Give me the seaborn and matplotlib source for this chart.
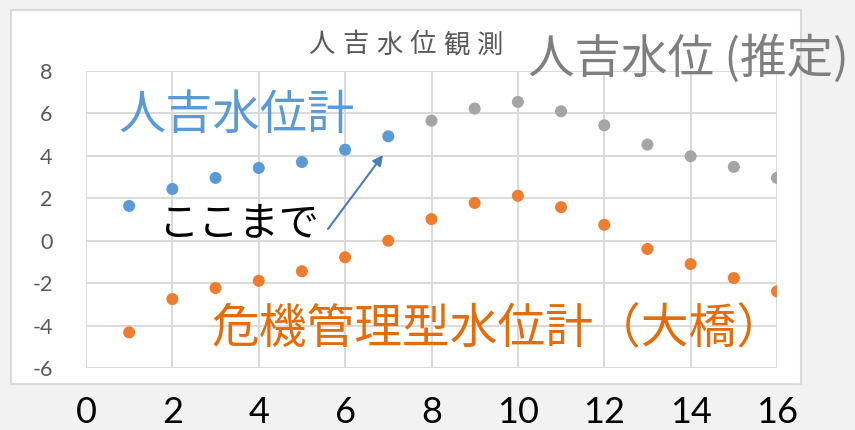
import numpy as np
import pandas as pd
import matplotlib.pyplot as plt
import seaborn as sns
from matplotlib.patches import Rectangle

# --- data ---
x_obs = [1, 2, 3, 4, 5, 6, 7]
level_obs = [1.64, 2.44, 2.96, 3.43, 3.71, 4.29, 4.92]

x_est = [8, 9, 10, 11, 12, 13, 14, 15, 16]
level_est = [5.66, 6.23, 6.54, 6.10, 5.44, 4.53, 3.98, 3.48, 2.96]

x_ohashi = list(range(1, 17))
level_ohashi = [-4.32, -2.75, -2.23, -1.89, -1.44, -0.78, 0.0, 1.02,
                1.78, 2.12, 1.58, 0.75, -0.39, -1.10, -1.76, -2.39]

x_ticks = [0, 2, 4, 6, 8, 10, 12, 14, 16]
y_ticks = [-6, -4, -2, 0, 2, 4, 6, 8]

BLUE = '#5b9bd5'
GRAY = '#a5a5a5'
ORANGE = '#ed7d31'

df = pd.concat([
    pd.DataFrame({'x': x_obs, 'level': level_obs, 'series': 'obs'}),
    pd.DataFrame({'x': x_est, 'level': level_est, 'series': 'est'}),
    pd.DataFrame({'x': x_ohashi, 'level': level_ohashi, 'series': 'ohashi'}),
])

sns.set_theme(style="whitegrid")
plt.rcParams['font.family'] = ['Noto Sans CJK JP', 'DejaVu Sans']

W, H = 855, 430
fig = plt.figure(figsize=(W / 100, H / 100), dpi=100, facecolor='#f2f2f2')

def fx(px):
    return px / W

def fy(py):
    return 1 - py / H

# white chart panel (behind the axes)
fig.patches.append(Rectangle((fx(11), fy(384)), fx(801) - fx(11), fy(10) - fy(384),
                             transform=fig.transFigure, facecolor='white',
                             edgecolor='#d9d9d9', linewidth=1.5, zorder=-5))

ax = fig.add_axes([fx(86), fy(368), fx(777) - fx(86), fy(71) - fy(368)])
ax.set_zorder(1)
ax.set_facecolor('white')

sns.scatterplot(data=df, x='x', y='level', hue='series',
                palette={'obs': BLUE, 'est': GRAY, 'ohashi': ORANGE},
                s=75, linewidth=0, legend=False, ax=ax, zorder=3)

ax.set_xlim(0, 16)
ax.set_ylim(-6, 8)
ax.set_xticks(x_ticks)
ax.set_yticks(y_ticks)
ax.set_xticklabels([str(v) for v in x_ticks], fontsize=26, color='black', family='Lato')
ax.set_yticklabels([str(v) for v in y_ticks], fontsize=15.5, color='#595959', family='Lato')
ax.tick_params(axis='x', length=0, pad=20)
ax.tick_params(axis='y', length=0, pad=24)
ax.grid(True, color='#d9d9d9', linewidth=1.4)
for sp in ax.spines.values():
    sp.set_visible(False)
ax.set_xlabel('')
ax.set_ylabel('')

# chart title with wide letter spacing
title = '人吉水位観測'
for i, ch in enumerate(title):
    fig.text(fx(305 + 16.8 + i * 33.7), fy(45), ch, fontsize=19, color='#595959',
             ha='center', va='center', zorder=5)

fig.text(fx(528), fy(60), '人吉水位 (推定)', fontsize=33.5, color='#7f7f7f',
         ha='left', va='center', zorder=5)
fig.text(fx(118), fy(116), '人吉水位計', fontsize=34, color=BLUE,
         ha='left', va='center', zorder=5)
fig.text(fx(158), fy(224), 'ここまで', fontsize=29, color='black',
         ha='left', va='center', zorder=5)
fig.text(fx(211), fy(330), '危機管理型水位計（大橋）', fontsize=34.4, color='#e46c0a',
         ha='left', va='center', zorder=5)

fig.add_artist(plt.Annotation('', xy=(fx(383), fy(155)), xycoords='figure fraction',
                              xytext=(fx(328), fy(229)), textcoords='figure fraction',
                              arrowprops=dict(arrowstyle='-|>', color='#4a7ebb', lw=1.5,
                                              mutation_scale=15, shrinkA=0, shrinkB=0),
                              zorder=6))

fig.savefig('out.png', dpi=100, facecolor=fig.get_facecolor())
